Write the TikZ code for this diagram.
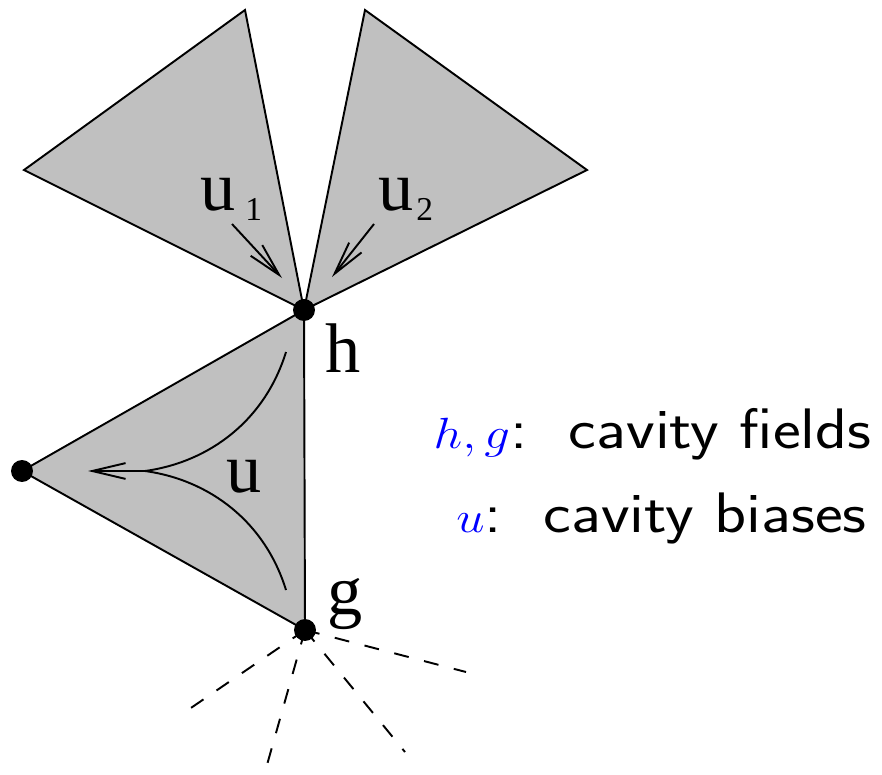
\documentclass[tikz,border=0pt]{standalone}
\usepackage{fontspec}
\newfontfamily\labelfont{Liberation Serif}
\usetikzlibrary{arrows.meta}
\definecolor{trigray}{RGB}{192,192,192}
\begin{document}
\begin{tikzpicture}[x=0.02cm,y=-0.02cm,
  tri/.style={fill=trigray,draw=black,line width=1.1pt,line join=miter},
  thin/.style={line width=1.1pt},
  barb/.style={-{Straight Barb[length=19pt,width=9pt,line width=1.1pt]}},
  dashline/.style={line width=1.1pt,dash pattern=on 8.5pt off 9pt},
  dot/.style={circle,fill=black,inner sep=0pt,minimum size=12.5pt},
  lab/.style={font=\labelfont\fontsize{40}{40}\selectfont,inner sep=0pt,anchor=base west},
  sub/.style={font=\labelfont\fontsize{19}{19}\selectfont,inner sep=0pt,anchor=base west},
  legend/.style={font=\sffamily\fontsize{32.5}{32.5}\selectfont,inner sep=0pt,anchor=base east}]
\useasboundingbox (0,0) rectangle (882,774);
% vertices
\coordinate (h) at (304,310);
\coordinate (g) at (305,630);
\coordinate (l) at (22,471);
\coordinate (a1) at (245,10);
\coordinate (a2) at (24,170);
\coordinate (b1) at (365,10);
\coordinate (b2) at (587,170);
% triangles
\filldraw[tri] (h) -- (a1) -- (a2) -- cycle;
\filldraw[tri] (h) -- (b1) -- (b2) -- cycle;
\filldraw[tri] (h) -- (l) -- (g) -- cycle;
% dashed edges
\coordinate (d1) at (185,712);
\coordinate (d2) at (265,772);
\coordinate (d3) at (405,752);
\coordinate (d4) at (466,672);
\draw[dashline] (g) -- (d1);
\draw[dashline] (g) -- (d2);
\draw[dashline] (g) -- (d3);
\draw[dashline] (g) -- (d4);
% cavity bias curves
\coordinate (ct) at (286,352);
\coordinate (cb) at (286,590);
\coordinate (cm) at (145,471);
\coordinate (ce) at (88,471);
\draw[thin] (ct) .. controls (265,420) and (210,462) .. (cm);
\draw[thin] (cb) .. controls (265,522) and (210,480) .. (cm);
\draw[thin,barb] (cm) -- (ce);
% incoming arrows
\coordinate (s1) at (232,224);
\coordinate (e1) at (282,278);
\coordinate (s2) at (374,224);
\coordinate (e2) at (332,277);
\draw[thin,barb] (s1) -- (e1);
\draw[thin,barb] (s2) -- (e2);
% dots
\node[dot] (hn) at (h) {};
\node[dot] (gn) at (g) {};
\node[dot] (ln) at (l) {};
% labels
\node[lab] (u1) at (200,210) {u};
\node[sub] (u1s) at (245,220) {1};
\node[lab] (u2) at (378,210) {u};
\node[sub] (u2s) at (416,220) {2};
\node[lab] (u) at (226,492) {u};
\node[lab] (hl) at (325,372) {h};
\node[lab] (gl) at (327,614) {g};
% legend
\node[legend] (leg1) at (872,448) {\scalebox{1.16}[1]{\textcolor{blue}{$h,g$}:\ \ cavity fields}};
\node[legend] (leg2) at (867,532) {\scalebox{1.16}[1]{\textcolor{blue}{$u$}:\ \ cavity biases}};
\end{tikzpicture}
\end{document}
